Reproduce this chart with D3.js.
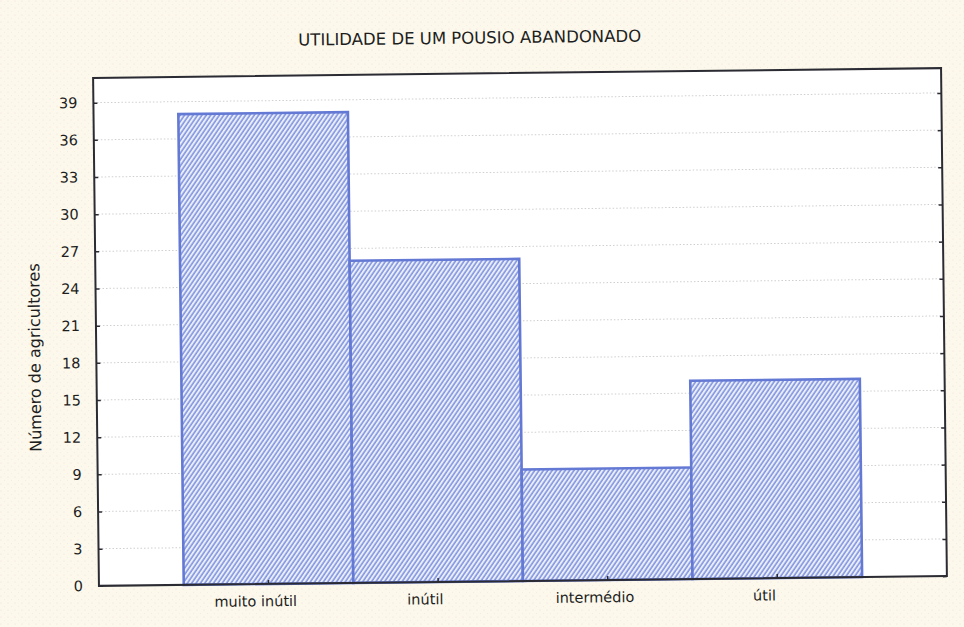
<!DOCTYPE html>
<html>
<head>
<meta charset="utf-8">
<script src="https://cdn.jsdelivr.net/npm/d3@7"></script>
<style>
  body { margin: 0; background: #fcf9ec; }
  svg { display: block; }
  text { font-family: "DejaVu Sans", sans-serif; fill: #1e1e1e; }
</style>
</head>
<body>
<svg id="chart" width="964" height="627"></svg>
<script>
// data
var chartTitle = 'UTILIDADE DE UM POUSIO ABANDONADO';
var yAxisLabel = 'Número de agricultores';
var categories = ['muito inútil', 'inútil', 'intermédio', 'útil'];
var counts = [38, 26, 9, 16];
var yTicks = [0, 3, 6, 9, 12, 15, 18, 21, 24, 27, 30, 33, 36, 39];
var yMax = 41;

var vis = {};

vis.draw = function () {
  var svg = d3.select('#chart'),
      width = +svg.attr('width'),
      height = +svg.attr('height');

  var plot = { left: 96, right: 944, top: 73, bottom: 581 };

  var defs = svg.append('defs');

  // paper texture of the scan
  var paper = defs.append('pattern')
    .attr('id', 'paper')
    .attr('width', 7).attr('height', 7)
    .attr('patternUnits', 'userSpaceOnUse');
  paper.append('rect').attr('width', 7).attr('height', 7).attr('fill', '#fcf9ec');
  paper.append('circle').attr('cx', 1).attr('cy', 1).attr('r', 0.55).attr('fill', '#f0d8dc');
  paper.append('circle').attr('cx', 4.5).attr('cy', 4.5).attr('r', 0.45).attr('fill', '#ece4d8');

  var hatch = defs.append('pattern')
    .attr('id', 'hatch')
    .attr('width', 3.6).attr('height', 3.6)
    .attr('patternUnits', 'userSpaceOnUse')
    .attr('patternTransform', 'rotate(35)');
  hatch.append('rect').attr('width', 3.6).attr('height', 3.6).attr('fill', '#e9eefc');
  hatch.append('line')
    .attr('x1', 1).attr('y1', 0).attr('x2', 1).attr('y2', 3.6)
    .attr('stroke', '#7d8fdc').attr('stroke-width', 1.5);

  svg.append('rect')
    .attr('width', width).attr('height', height)
    .attr('fill', 'url(#paper)');

  // the scan is slightly tilted
  var g = svg.append('g').attr('transform', 'rotate(-0.66, 520, 327)');

  var x = d3.scaleBand()
    .domain(categories)
    .range([plot.left, plot.right])
    .paddingInner(0)
    .paddingOuter(0.5);

  var y = d3.scaleLinear()
    .domain([0, yMax])
    .range([plot.bottom, plot.top]);

  g.append('rect')
    .attr('x', plot.left).attr('y', plot.top)
    .attr('width', plot.right - plot.left)
    .attr('height', plot.bottom - plot.top)
    .attr('fill', '#ffffff');

  // dotted grid
  g.append('g').attr('class', 'grid')
    .selectAll('line')
    .data(yTicks.filter(function (d) { return d > 0; }))
    .enter()
    .append('line')
    .attr('x1', plot.left).attr('x2', plot.right)
    .attr('y1', function (d) { return y(d); })
    .attr('y2', function (d) { return y(d); })
    .attr('stroke', '#cfcfcf')
    .attr('stroke-width', 1)
    .attr('stroke-dasharray', '1.5,2');

  g.append('g').attr('class', 'bars')
    .selectAll('rect')
    .data(counts)
    .enter()
    .append('rect')
    .attr('x', function (d, i) { return x(categories[i]); })
    .attr('y', function (d) { return y(d); })
    .attr('width', x.bandwidth())
    .attr('height', function (d) { return y(0) - y(d); })
    .attr('fill', 'url(#hatch)')
    .attr('stroke', '#6479d4')
    .attr('stroke-width', 2.6);

  // left axis, ticks pointing inwards
  var yAxis = g.append('g')
    .attr('transform', 'translate(' + plot.left + ',0)')
    .call(d3.axisLeft(y).tickValues(yTicks).tickSizeInner(-4).tickSizeOuter(0).tickPadding(16));
  yAxis.select('.domain').remove();
  yAxis.selectAll('.tick line').attr('stroke', '#2b2b33').attr('stroke-width', 1.5);
  yAxis.selectAll('.tick text')
    .attr('font-family', '"DejaVu Sans", sans-serif')
    .attr('font-size', 14.5)
    .attr('fill', '#1e1e1e');

  var yAxisRight = g.append('g')
    .attr('transform', 'translate(' + plot.right + ',0)')
    .call(d3.axisRight(y).tickValues(yTicks).tickSizeInner(-4).tickSizeOuter(0).tickFormat(''));
  yAxisRight.select('.domain').remove();
  yAxisRight.selectAll('.tick line').attr('stroke', '#2b2b33').attr('stroke-width', 1.5);

  var xAxis = g.append('g')
    .attr('transform', 'translate(0,' + plot.bottom + ')')
    .call(d3.axisBottom(x).tickSizeInner(-4).tickSizeOuter(0).tickPadding(12));
  xAxis.select('.domain').remove();
  xAxis.selectAll('.tick line').attr('stroke', '#2b2b33').attr('stroke-width', 1.5);
  xAxis.selectAll('.tick text')
    .attr('font-family', '"DejaVu Sans", sans-serif')
    .attr('font-size', 14.5)
    .attr('fill', '#1e1e1e')
    .attr('dx', -13)
    .attr('dy', '0.71em');

  // frame
  g.append('rect')
    .attr('x', plot.left).attr('y', plot.top)
    .attr('width', plot.right - plot.left)
    .attr('height', plot.bottom - plot.top)
    .attr('fill', 'none')
    .attr('stroke', '#2b2b33')
    .attr('stroke-width', 2);

  g.append('text')
    .attr('x', 473)
    .attr('y', 43)
    .attr('text-anchor', 'middle')
    .attr('font-size', 16.5)
    .text(chartTitle);

  g.append('text')
    .attr('transform', 'translate(40,352) rotate(-90)')
    .attr('text-anchor', 'middle')
    .attr('font-size', 16)
    .text(yAxisLabel);
};

document.addEventListener('DOMContentLoaded', function () {
  vis.draw();
});
</script>
</body>
</html>
